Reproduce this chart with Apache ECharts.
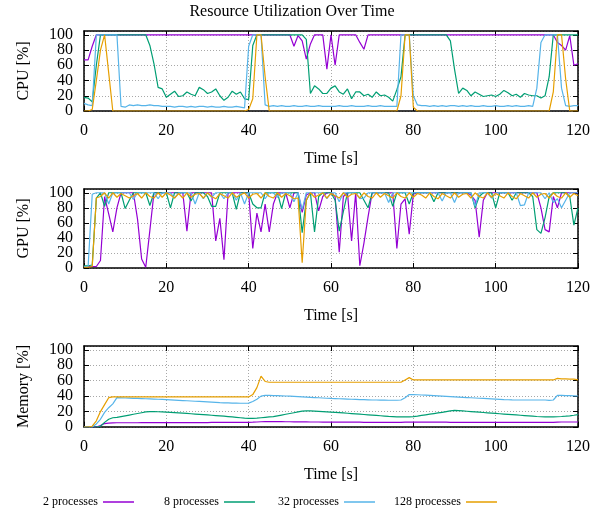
<!DOCTYPE html>
<html>
<head>
<meta charset="utf-8">
<script src="https://cdn.jsdelivr.net/npm/echarts@6/dist/echarts.min.js"></script>
<style>
html,body{margin:0;padding:0;background:#fff;}
#chart{width:606px;height:510px;}
</style>
</head>
<body>
<div id="chart"></div>
<script>
// ---------------- DATA ----------------
const time = [
0,1,2,3,4,5,6,7,8,9,10,11,12,13,14,15,16,17,18,19,
20,21,22,23,24,25,26,27,28,29,30,31,32,33,34,35,36,37,38,39,
40,41,42,43,44,45,46,47,48,49,50,51,52,53,54,55,56,57,58,59,
60,61,62,63,64,65,66,67,68,69,70,71,72,73,74,75,76,77,78,79,
80,81,82,83,84,85,86,87,88,89,90,91,92,93,94,95,96,97,98,99,
100,101,102,103,104,105,106,107,108,109,110,111,112,113,114,115,116,117,118,119,120];

const seriesNames = ['2 processes', '8 processes', '32 processes', '128 processes'];
const xTicks = [0, 20, 40, 60, 80, 100, 120];
const yTicks = [0, 20, 40, 60, 80, 100];
const panelTitles = ['CPU [%]', 'GPU [%]', 'Memory [%]'];
const xTitle = 'Time [s]';
const chartTitle = 'Resource Utilization Over Time';

// CPU
const cpu2 = [
67,67,85,100,100,100,100,100,100,100,
100,100,100,100,100,100,100,100,100,100,
100,100,100,100,100,100,100,100,100,100,
100,100,100,100,100,100,100,100,100,100,
100,100,100,100,100,100,100,100,100,100,
100,85,99,92,68,88,100,100,100,55,
100,60,100,100,100,100,100,90,81,100,
100,100,100,100,100,100,100,100,100,100,
100,100,100,100,100,100,100,100,100,100,
100,100,100,100,100,100,100,100,100,100,
100,100,100,100,100,100,100,100,100,100,
100,100,100,100,100,90,86,80,99,60,
62];
const cpu8 = [
18,17,12,60,100,100,100,100,100,100,
100,100,100,100,100,100,86,62,31,29,
18,22,26,19,20,25,22,20,31,28,
23,25,29,20,14,18,26,22,25,16,
15,86,100,100,100,100,100,100,100,100,
100,100,100,100,94,23,33,29,23,23,
30,33,25,22,29,16,25,25,20,22,
18,25,20,21,18,13,28,45,100,100,
100,100,100,100,100,100,100,100,100,92,
55,23,30,27,20,25,22,19,20,21,
19,22,27,24,20,22,18,23,21,20,
20,17,20,45,100,100,100,100,100,100,
100];
const cpu32 = [
10,8,7,100,100,100,100,100,100,6,
5,8,7,8,7,7,8,7,7,6,
6,6,5,6,6,5,6,5,6,6,
5,6,5,5,6,5,5,6,5,4,
85,100,100,100,8,6,7,6,7,6,
6,7,6,6,7,6,6,7,6,6,
6,6,7,6,6,7,6,6,6,7,
6,6,7,6,6,6,6,100,100,100,
20,8,7,7,6,7,6,7,6,7,
7,6,7,6,7,6,6,7,6,6,
7,6,6,7,6,7,6,6,7,6,
30,90,100,100,100,100,30,7,6,7,
7];
const cpu128 = [
0,0,2,40,80,100,50,0,0,0,
0,0,0,0,0,0,0,0,0,0,
0,0,0,0,0,0,0,0,0,0,
0,0,0,0,0,0,0,0,0,0,
2,16,100,100,45,0,0,0,0,0,
0,0,0,0,0,0,0,0,0,0,
0,0,0,0,0,0,0,0,0,0,
0,0,0,0,0,0,0,20,100,100,
5,0,0,0,0,0,0,0,0,0,
0,0,0,0,0,0,0,0,0,0,
0,0,0,0,0,0,0,0,0,0,
0,0,0,0,25,100,100,42,0,0,
0];

// GPU
const gpu2 = [
2,2,2,2,10,95,72,48,80,100,
100,100,100,65,12,1,50,100,100,100,
100,100,100,100,100,49,100,100,100,100,
100,100,36,66,11,100,100,100,100,100,
100,26,73,48,85,48,85,100,100,100,
80,100,100,74,97,100,100,76,95,100,
100,95,21,95,100,36,100,3,33,68,
100,100,100,100,100,100,26,85,92,45,
98,100,100,100,100,100,100,100,100,100,
100,100,100,100,97,90,41,90,100,100,
100,100,100,100,100,100,100,100,100,100,
100,80,51,48,95,80,100,100,100,100,
100];
const gpu8 = [
3,3,4,93,100,82,100,100,100,100,
79,90,100,100,100,100,83,100,100,100,
100,80,100,100,100,100,89,100,100,100,
95,82,82,100,100,100,100,78,100,100,
100,85,80,80,100,100,100,100,79,100,
100,100,100,47,90,100,48,95,100,100,
100,90,49,75,100,100,100,100,90,80,
100,100,100,100,100,82,100,100,100,85,
100,100,100,100,100,88,100,100,100,100,
100,100,100,100,100,80,95,100,100,100,
80,100,100,100,90,100,100,100,100,95,
51,46,67,95,100,100,100,100,95,57,
80];
const gpu32 = [
2,2,98,100,100,100,85,100,100,100,
100,100,91,100,100,100,100,100,92,100,
100,100,93,100,100,100,100,85,100,92,
100,94,100,100,92,100,100,90,100,85,
100,100,100,100,92,100,100,94,100,100,
100,88,100,78,100,100,100,100,100,92,
100,100,88,100,100,100,100,92,93,100,
100,100,100,100,87,100,100,100,100,100,
100,100,100,100,100,100,100,89,100,100,
87,100,100,100,100,82,100,100,100,93,
100,100,100,100,100,100,83,84,100,100,
100,100,92,100,87,92,80,90,100,100,
100];
const gpu128 = [
1,1,2,93,95,100,93,100,94,99,
96,93,96,99,93,100,95,93,100,94,
100,97,93,99,93,100,94,98,99,93,
100,95,92,99,96,93,100,94,97,100,
93,98,99,93,100,95,93,100,94,99,
96,92,93,7,90,100,94,97,100,93,
99,96,93,100,94,98,99,93,100,95,
93,100,94,99,96,93,100,95,93,100,
94,99,97,93,100,95,92,99,96,93,
100,94,98,99,93,100,95,93,100,94,
99,96,93,100,95,92,99,96,93,100,
94,98,99,93,100,95,93,100,94,99,
96];

// Memory
const mem2 = [
0,0,0,0,2,4.5,5,5.3,5.5,5.5,
5.5,5.5,5.5,5.5,5.6,5.6,5.6,5.6,5.6,5.6,
5.7,5.7,5.7,5.7,5.7,5.8,5.8,5.8,5.8,5.8,
5.8,5.9,5.9,5.9,5.9,5.9,6,6,6,6,
6,6.2,6.5,6.8,7,7,7,7,6.9,6.8,
6.8,6.7,6.7,6.6,6.6,6.5,6.5,6.5,6.4,6.4,
6.4,6.3,6.3,6.3,6.2,6.2,6.2,6.2,6.1,6.1,
6.1,6.1,6,6,6,6,6,6,6.2,6.4,
6.4,6.4,6.3,6.3,6.3,6.2,6.2,6.2,6.2,6.1,
6.1,6.1,6.1,6,6,6,6,6,6,6,
6,6,6,6,6,6,6,6,6,6,
6,6,6,6,6.1,6.4,6.5,6.5,6.5,6.5,
6.5];
const mem8 = [
0,0,0,0,1,6,10,12,12.5,13.5,
14.5,15.5,16.5,17.5,18.5,19.5,20,20,19.8,19.5,
19.2,18.9,18.6,18.3,18,17.6,17.2,16.8,16.4,16,
15.6,15.2,14.8,14.4,14,13.5,13,12.5,12,11.5,
11.2,11.2,11.5,12,12.5,13,13.5,14.5,15.5,16.5,
17.5,18.5,19.5,20.5,21,20.8,20.5,20.2,19.9,19.6,
19.3,19,18.6,18.2,17.8,17.4,17,16.6,16.2,15.8,
15.4,15,14.6,14.2,13.8,13.5,13.2,13,13,13.2,
13.5,14.2,15,15.8,16.6,17.4,18.2,19,20,21,
21.5,21.2,20.8,20.4,20,19.6,19.2,18.8,18.4,18,
17.6,17.2,16.8,16.4,16,15.6,15.2,14.8,14.4,14,
13.6,13.3,13,13,13.1,13.3,13.6,14,14.5,15.2,
16];
const mem32 = [
0,0,0,4,10,19,25,30,38,37.8,
37.6,37.4,37.2,37,36.8,36.6,36.4,36.2,36,35.8,
35.5,35.2,34.9,34.6,34.3,34,33.7,33.4,33.1,32.8,
32.5,32.2,31.9,31.6,31.4,31.2,31,30.9,30.8,30.8,
31,33,36,40,41,41,40.8,40.6,40.4,40.2,
40,39.7,39.4,39.1,38.8,38.5,38.2,37.9,37.6,37.3,
37,36.8,36.6,36.4,36.2,36,35.8,35.6,35.4,35.2,
35,35,34.8,34.8,34.7,34.7,34.7,35,38,42,
42,41.8,41.5,41.2,40.9,40.6,40.3,40,39.7,39.4,
39.1,38.8,38.5,38.2,37.9,37.6,37.3,37,36.7,36.4,
36.1,35.8,35.5,35.3,35.1,35,35,35,35,35,
35,35,35,34.5,35,41,41,40.8,40.6,40.4,
40.2];
const mem128 = [
0,0,1,8,20,29,38,39,39,39,
39,39,39,39,39,39,39,39,39,39,
39,39,39,39,39,39,39,39,39,39,
39,39,39,39,39,39,39,39,39,39,
39,42,51,66,59,58,58,58,58,58,
58,58,58,58,58,58,58,58,58,58,
58,58,58,58,58,58,58,58,58,58,
58,58,58,58,58,58,58,58,61,64,
61,61,61,61,61,61,61,61,61,61,
61,61,61,61,61,61,61,61,61,61,
61,61,61,61,61,61,61,61,61,61,
61,61,61,61,61,63,62.5,62.5,62,62,
61];

// ---------------- CHART ----------------
const FONT = "'Liberation Serif', 'Times New Roman', Times, serif";
const colors = ['#9400D3', '#009E73', '#56B4E9', '#E69F00'];
const panelData = [
  [cpu2, cpu8, cpu32, cpu128],
  [gpu2, gpu8, gpu32, gpu128],
  [mem2, mem8, mem32, mem128]
];
const layout = [
  {top: 31, height: 80},
  {top: 189, height: 79},
  {top: 346, height: 81}
];
const legendLeft = [43, 164, 278, 394];
const yMax = 105;

const grids = [], xAxes = [], yAxes = [], series = [];
const frame = {show: true, onZero: false, lineStyle: {color: '#000', width: 1.5}};
const tickIn = {show: true, inside: true, length: 5, lineStyle: {color: '#000', width: 1}};
const dotted = {show: true, lineStyle: {color: '#a8a8a8', width: 1, type: [1, 2]}};
const labelStyle = {fontFamily: FONT, fontSize: 16, color: '#000'};

layout.forEach((L, i) => {
  grids.push({left: 84, right: 28, top: L.top, height: L.height});
  const xmin = xTicks[0], xmax = xTicks[xTicks.length - 1], xint = xTicks[1] - xTicks[0];
  const yint = yTicks[1] - yTicks[0];
  xAxes.push({
    type: 'value', gridIndex: i, position: 'bottom', min: xmin, max: xmax, interval: xint,
    axisLine: frame, axisTick: tickIn, splitLine: dotted,
    axisLabel: Object.assign({margin: 12, showMinLabel: true, showMaxLabel: true}, labelStyle),
    name: xTitle, nameLocation: 'middle', nameGap: 40,
    nameTextStyle: labelStyle
  });
  xAxes.push({
    type: 'value', gridIndex: i, position: 'top', min: xmin, max: xmax, interval: xint,
    axisLine: frame, axisTick: tickIn, splitLine: {show: false}, axisLabel: {show: false}
  });
  // main left axis: labels 20..100 (0 drawn by helper axis below)
  yAxes.push({
    type: 'value', gridIndex: i, position: 'left', min: yTicks[0], max: yMax, interval: yint,
    axisLine: frame, axisTick: tickIn, splitLine: dotted,
    axisLabel: Object.assign({
      margin: 11, showMaxLabel: false,
      formatter: v => (v !== yTicks[0] && yTicks.indexOf(v) >= 0 ? String(v) : '')
    }, labelStyle),
    name: panelTitles[i], nameLocation: 'middle', nameGap: 52,
    nameTextStyle: labelStyle
  });
  yAxes.push({
    type: 'value', gridIndex: i, position: 'right', min: yTicks[0], max: yMax, interval: yint,
    axisLine: frame, axisTick: tickIn, splitLine: {show: false}, axisLabel: {show: false}
  });
  // helper left axis: only the "0" label
  yAxes.push({
    type: 'value', gridIndex: i, position: 'left', offset: 0, min: yTicks[0], max: yMax, interval: yint,
    axisLine: {show: false}, axisTick: {show: false}, splitLine: {show: false},
    axisLabel: Object.assign({
      margin: 11, showMinLabel: true, showMaxLabel: false,
      formatter: v => (v === yTicks[0] ? String(v) : '')
    }, labelStyle)
  });
  panelData[i].forEach((arr, k) => {
    series.push({
      type: 'line', name: seriesNames[k], xAxisIndex: 2 * i, yAxisIndex: 3 * i,
      data: time.map((t, j) => [t, arr[j]]),
      showSymbol: false, symbol: 'none', smooth: false, clip: true,
      lineStyle: {color: colors[k], width: 1.2},
      itemStyle: {color: colors[k]},
      emphasis: {disabled: true}
    });
  });
});

const legends = seriesNames.map((n, k) => ({
  data: [n], left: legendLeft[k], top: 496, align: 'right', orient: 'horizontal',
  icon: 'rect', itemWidth: 31, itemHeight: 1.5, padding: 0,
  textStyle: {fontFamily: FONT, fontSize: 12, color: '#000'}
}));

const chart = echarts.init(document.getElementById('chart'), null, {renderer: 'canvas'});
chart.setOption({
  animation: false,
  backgroundColor: '#fff',
  color: colors,
  title: {
    text: chartTitle, left: 292, top: 4, textAlign: 'center', padding: 0,
    textStyle: {fontFamily: FONT, fontSize: 16, fontWeight: 'normal', color: '#000'}
  },
  legend: legends,
  grid: grids,
  xAxis: xAxes,
  yAxis: yAxes,
  series: series
});
</script>
</body>
</html>
